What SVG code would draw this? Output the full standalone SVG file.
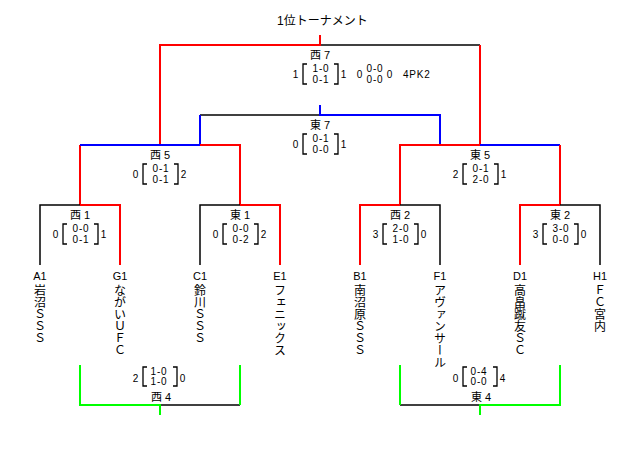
<svg xmlns="http://www.w3.org/2000/svg" width="640" height="450" viewBox="0 0 640 450">
<style>
text{font-family:"Liberation Sans","Noto Sans CJK JP",sans-serif;fill:#000}
.ttl{font-size:12px}
.lbl{font-size:11px;text-anchor:middle}
.sc{font-size:10px;text-anchor:middle;letter-spacing:0.8px}
.tm{font-size:11px;text-anchor:middle}
.nm{font-size:12px;writing-mode:vertical-rl;font-family:"Noto Sans CJK JP",sans-serif}
.c{fill:none;stroke-width:2}
.r{stroke:#ff0000}.b{stroke:#0000ff}.g{stroke:#00ff00}.k{stroke:#000;stroke-width:1.5}
.br{fill:none;stroke:#000;stroke-width:1.3}
</style>
<rect width="640" height="450" fill="#fff"/>
<text class="ttl" x="277" y="25">1位トーナメント</text>
<g id="connectors">
<path class="c k" d="M320,45 H480"/>
<path class="c r" d="M320,35 V45 H160 V145"/>
<path class="c r" d="M480,45 V145"/>
<path class="c k" d="M320,115 H200"/>
<path class="c b" d="M320,105 V115 H440 V145"/>
<path class="c b" d="M200,115 V145"/>
<path class="c r" d="M240,205 V145 H160"/>
<path class="c r" d="M80,205 V145"/>
<path class="c b" d="M80,145 H200"/>
<path class="c b" d="M560,145 H440"/>
<path class="c r" d="M400,205 V145 H480"/>
<path class="c r" d="M560,145 V205"/>
<path class="c k" d="M40,265 V205 H80"/>
<path class="c r" d="M80,205 H120 V265"/>
<path class="c k" d="M200,265 V205 H240"/>
<path class="c r" d="M240,205 H280 V265"/>
<path class="c r" d="M360,265 V205 H400"/>
<path class="c k" d="M400,205 H440 V265"/>
<path class="c r" d="M520,265 V205 H560"/>
<path class="c k" d="M560,205 H600 V265"/>
<path class="c k" d="M160,405 H240"/>
<path class="c g" d="M80,365 V405 H160 V415"/>
<path class="c g" d="M240,365 V405"/>
<path class="c k" d="M400,405 H480"/>
<path class="c g" d="M400,365 V405"/>
<path class="c g" d="M480,415 V405 H560 V365"/>
</g>
<g id="m-w7">
<text class="lbl" x="320" y="59">西 7</text>
<text class="sc" x="296" y="78">1</text>
<path class="br" d="M307,64 H303 V84 H307"/>
<text class="sc" x="321" y="72">1-0</text>
<text class="sc" x="321" y="83">0-1</text>
<path class="br" d="M334,64 H338 V84 H334"/>
<text class="sc" x="344" y="78">1</text>
<text class="sc" x="360" y="78">0</text>
<text class="sc" x="375" y="72">0-0</text>
<text class="sc" x="375" y="83">0-0</text>
<text class="sc" x="390" y="78">0</text>
<text class="sc" x="403" y="78" style="text-anchor:start">4PK2</text>
</g>
<g id="m-e7">
<text class="lbl" x="320" y="129">東 7</text>
<text class="sc" x="296" y="148">0</text>
<path class="br" d="M307,134 H303 V154 H307"/>
<text class="sc" x="321" y="142">0-1</text>
<text class="sc" x="321" y="153">0-0</text>
<path class="br" d="M334,134 H338 V154 H334"/>
<text class="sc" x="344" y="148">1</text>
</g>
<g id="m-w5">
<text class="lbl" x="160" y="159">西 5</text>
<text class="sc" x="136" y="178">0</text>
<path class="br" d="M147,164 H143 V184 H147"/>
<text class="sc" x="161" y="172">0-1</text>
<text class="sc" x="161" y="183">0-1</text>
<path class="br" d="M174,164 H178 V184 H174"/>
<text class="sc" x="184" y="178">2</text>
</g>
<g id="m-e5">
<text class="lbl" x="480" y="159">東 5</text>
<text class="sc" x="456" y="178">2</text>
<path class="br" d="M467,164 H463 V184 H467"/>
<text class="sc" x="481" y="172">0-1</text>
<text class="sc" x="481" y="183">2-0</text>
<path class="br" d="M494,164 H498 V184 H494"/>
<text class="sc" x="504" y="178">1</text>
</g>
<g id="m-w1">
<text class="lbl" x="80" y="219">西 1</text>
<text class="sc" x="56" y="238">0</text>
<path class="br" d="M67,224 H63 V244 H67"/>
<text class="sc" x="81" y="232">0-0</text>
<text class="sc" x="81" y="243">0-1</text>
<path class="br" d="M94,224 H98 V244 H94"/>
<text class="sc" x="104" y="238">1</text>
</g>
<g id="m-e1">
<text class="lbl" x="240" y="219">東 1</text>
<text class="sc" x="216" y="238">0</text>
<path class="br" d="M227,224 H223 V244 H227"/>
<text class="sc" x="241" y="232">0-0</text>
<text class="sc" x="241" y="243">0-2</text>
<path class="br" d="M254,224 H258 V244 H254"/>
<text class="sc" x="264" y="238">2</text>
</g>
<g id="m-w2">
<text class="lbl" x="400" y="219">西 2</text>
<text class="sc" x="376" y="238">3</text>
<path class="br" d="M387,224 H383 V244 H387"/>
<text class="sc" x="401" y="232">2-0</text>
<text class="sc" x="401" y="243">1-0</text>
<path class="br" d="M414,224 H418 V244 H414"/>
<text class="sc" x="424" y="238">0</text>
</g>
<g id="m-e2">
<text class="lbl" x="560" y="219">東 2</text>
<text class="sc" x="536" y="238">3</text>
<path class="br" d="M547,224 H543 V244 H547"/>
<text class="sc" x="561" y="232">3-0</text>
<text class="sc" x="561" y="243">0-0</text>
<path class="br" d="M574,224 H578 V244 H574"/>
<text class="sc" x="584" y="238">0</text>
</g>
<g id="m-w4">
<text class="sc" x="136" y="382">2</text>
<path class="br" d="M147,367 H143 V386 H147"/>
<text class="sc" x="159" y="375">1-0</text>
<text class="sc" x="159" y="385">1-0</text>
<path class="br" d="M173,367 H177 V386 H173"/>
<text class="sc" x="183" y="382">0</text>
<text class="lbl" x="161" y="401">西 4</text>
</g>
<g id="m-e4">
<text class="sc" x="456" y="382">0</text>
<path class="br" d="M467,367 H463 V386 H467"/>
<text class="sc" x="479" y="375">0-4</text>
<text class="sc" x="479" y="385">0-0</text>
<path class="br" d="M493,367 H497 V386 H493"/>
<text class="sc" x="503" y="382">4</text>
<text class="lbl" x="481" y="401">東 4</text>
</g>
<g id="t-a1"><text class="tm" x="40" y="280">A1</text><text class="nm" x="40" y="284">岩沼ＳＳＳ</text></g>
<g id="t-g1"><text class="tm" x="120" y="280">G1</text><text class="nm" x="120" y="284">ながいＵＦＣ</text></g>
<g id="t-c1"><text class="tm" x="200" y="280">C1</text><text class="nm" x="200" y="284">鈴川ＳＳＳ</text></g>
<g id="t-e1"><text class="tm" x="280" y="280">E1</text><text class="nm" x="280" y="284">フェニックス</text></g>
<g id="t-b1"><text class="tm" x="360" y="280">B1</text><text class="nm" x="360" y="284">南沼原ＳＳＳ</text></g>
<g id="t-f1"><text class="tm" x="440" y="280">F1</text><text class="nm" x="440" y="284">アヴァンサール</text></g>
<g id="t-d1"><text class="tm" x="520" y="280">D1</text><text class="nm" x="520" y="284">高畠蹴友ＳＣ</text></g>
<g id="t-h1"><text class="tm" x="600" y="280">H1</text><text class="nm" x="600" y="284">ＦＣ宮内</text></g>
</svg>
